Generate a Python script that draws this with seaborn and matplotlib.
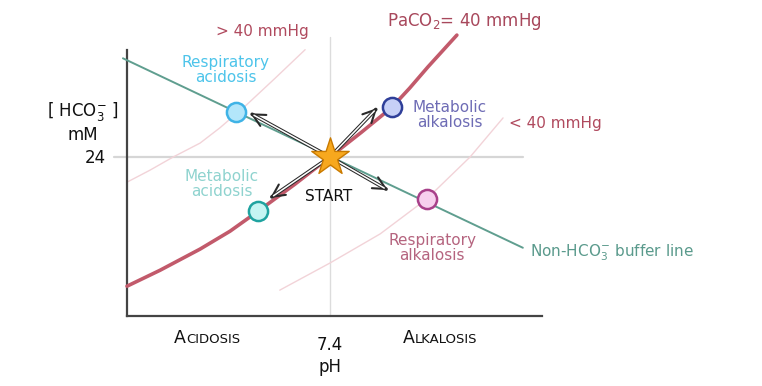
import matplotlib
matplotlib.use("Agg")
import matplotlib.pyplot as plt
import seaborn as sns

# Davenport diagram: pH on x, [HCO3-] (mM) on y
ph_main = [7.000, 7.065, 7.144, 7.203, 7.258, 7.331, 7.400, 7.463, 7.522, 7.557, 7.593, 7.650]
hco3_main = [4.5, 6.9, 10.1, 12.8, 15.8, 19.9, 24.0, 27.8, 31.5, 34.4, 37.6, 42.4]

ph_high = [7.000, 7.045, 7.091, 7.144, 7.183, 7.236, 7.292, 7.351]
hco3_high = [20.2, 22.0, 24.0, 26.1, 28.4, 31.9, 35.9, 40.2]

ph_low = [7.301, 7.400, 7.499, 7.591, 7.676, 7.741]
hco3_low = [3.9, 8.0, 12.4, 17.7, 24.0, 29.9]

ph_buffer = [6.992, 7.780]
hco3_buffer = [38.9, 10.3]

start_ph, start_hco3 = 7.4, 24.0

states = ["Respiratory\nacidosis", "Metabolic\nalkalosis", "Metabolic\nacidosis", "Respiratory\nalkalosis"]
state_ph = [7.215, 7.522, 7.258, 7.591]
state_hco3 = [30.8, 31.5, 15.8, 17.7]
arrow_ph = [7.243, 7.493, 7.282, 7.514]
arrow_hco3 = [30.6, 31.4, 17.8, 19.0]
label_ph = [7.195, 7.636, 7.187, 7.601]
label_hco3 = [37.1, 30.4, 19.9, 10.3]

face_colors = ["#b3e6fa", "#c7d0f7", "#c5f5f3", "#f7d0ee"]
edge_colors = ["#3fb3e6", "#2f3f99", "#1fa3a0", "#a8408a"]
text_colors = ["#4dc4ea", "#6e6cb5", "#8fd3cf", "#b5647f"]

sns.set_style("white")
plt.rcParams["font.family"] = ["DejaVu Sans"]
plt.rcParams["mathtext.default"] = "regular"

sx = 0.4 / 203
sy = 24 / 159

fig = plt.figure(figsize=(7.62, 3.86), dpi=100)
ax = fig.add_axes([0, 0, 1, 1])
ax.set_xlim(7.0 - 127 * sx, 7.0 + 635 * sx)
ax.set_ylim(-70 * sy, 316 * sy)

# reference lines through the normal point
ax.plot([7.4, 7.4], [0, 42.1], color="#dcdcdc", lw=1.0, zorder=1)
ax.plot([6.975, 7.78], [24, 24], color="#d6d6d6", lw=1.6, zorder=1)

# isobars and buffer line
sns.lineplot(x=ph_high, y=hco3_high, ax=ax, color="#f2d3d8", lw=1.0, sort=False, zorder=2)
sns.lineplot(x=ph_low, y=hco3_low, ax=ax, color="#f2d3d8", lw=1.0, sort=False, zorder=2)
sns.lineplot(x=ph_main, y=hco3_main, ax=ax, color="#c25a6b", lw=2.6, sort=False, zorder=3)
sns.lineplot(x=ph_buffer, y=hco3_buffer, ax=ax, color="#5f9e8f", lw=1.4, sort=False, zorder=3)

# hollow arrows from start to each disturbance
for px, py in zip(arrow_ph, arrow_hco3):
    ax.annotate("", xy=(px, py), xytext=(start_ph, start_hco3),
                arrowprops=dict(arrowstyle="->,head_length=0.9,head_width=0.45", lw=1.5,
                                color="#2a2a2a", shrinkA=0, shrinkB=0), zorder=4)
    ax.annotate("", xy=(px, py), xytext=(start_ph, start_hco3),
                arrowprops=dict(arrowstyle="-", lw=2.6, color="#2a2a2a",
                                shrinkA=0, shrinkB=1.5), zorder=4)
    ax.annotate("", xy=(px, py), xytext=(start_ph, start_hco3),
                arrowprops=dict(arrowstyle="-", lw=1.1, color="white",
                                shrinkA=0, shrinkB=3), zorder=4)

for i in range(len(states)):
    sns.scatterplot(x=[state_ph[i]], y=[state_hco3[i]], ax=ax, s=190,
                    color=face_colors[i], edgecolor=edge_colors[i], linewidth=1.8, zorder=6)
    ax.text(label_ph[i], label_hco3[i], states[i], color=text_colors[i], fontsize=11,
            ha="center", va="center", linespacing=1.0, zorder=7)

sns.scatterplot(x=[start_ph], y=[start_hco3], ax=ax, marker="*", s=800,
                color="#f7a81e", edgecolor="#c97a00", linewidth=1.0, zorder=8)
ax.text(7.398, 18.1, "START", fontsize=11, ha="center", va="center", color="#111111")

# isobar labels
ax.text(7.266, 42.9, "> 40 mmHg", fontsize=11, color="#b04a5e", ha="center", va="center")
ax.text(7.512, 44.4, r"PaCO$_2$= 40 mmHg", fontsize=12, color="#a8485c", ha="left", va="center")
ax.text(7.753, 29.1, "< 40 mmHg", fontsize=11, color="#b04a5e", ha="left", va="center")
ax.text(7.794, 9.5, r"Non-HCO$_3^{-}$ buffer line", fontsize=11, color="#5a9a8c",
        ha="left", va="center")

# axis labels
ax.text(6.913, 30.8, r"[ HCO$_3^{-}$ ]", fontsize=12, ha="center", va="center", color="#111111")
ax.text(6.913, 27.3, "mM", fontsize=12, ha="center", va="center", color="#111111")
ax.text(6.937, 23.8, "24", fontsize=12, ha="center", va="center", color="#111111")
ax.text(7.4, -4.4, "7.4", fontsize=12, ha="center", va="center", color="#111111")
ax.text(7.4, -7.7, "pH", fontsize=12, ha="center", va="center", color="#111111")

ax.text(7.116, -4.1, "A", fontsize=12.5, ha="right", va="baseline", color="#111111")
ax.text(7.116, -4.1, "CIDOSIS", fontsize=9.5, ha="left", va="baseline", color="#111111")
ax.text(7.567, -4.1, "A", fontsize=12.5, ha="right", va="baseline", color="#111111")
ax.text(7.567, -4.1, "LKALOSIS", fontsize=9.5, ha="left", va="baseline", color="#111111")

# axis spines placed in data coordinates
for side in ["top", "right"]:
    ax.spines[side].set_visible(False)
ax.spines["left"].set_position(("data", 7.0))
ax.spines["left"].set_bounds(0, 40.15)
ax.spines["bottom"].set_position(("data", 0))
ax.spines["bottom"].set_bounds(7.0, 7.818)
for side in ["left", "bottom"]:
    ax.spines[side].set_color("#444444")
    ax.spines[side].set_linewidth(1.6)
ax.set_xticks([])
ax.set_yticks([])
ax.set_xlabel("")
ax.set_ylabel("")
ax.patch.set_alpha(0)

fig.savefig("out.png", dpi=100, facecolor="white")
